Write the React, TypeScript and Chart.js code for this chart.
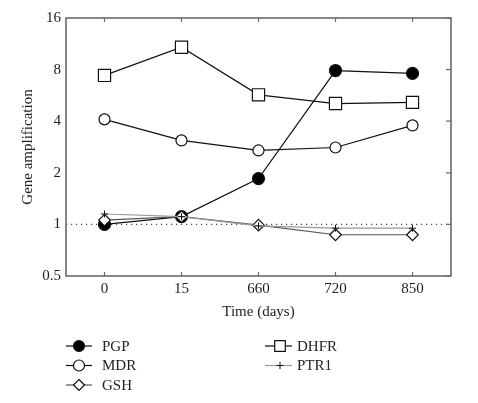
import React, { useEffect, useRef } from "react";
import { Chart, registerables } from "chart.js";

Chart.register(...registerables);

const categories = ["0", "15", "660", "720", "850"];
const yTicks = [0.5, 1, 2, 4, 8, 16];
const pgp = [1.0, 1.11, 1.85, 7.9, 7.6];
const mdr = [4.1, 3.09, 2.7, 2.81, 3.78];
const gsh = [1.06, 1.11, 0.99, 0.87, 0.87];
const dhfr = [7.4, 10.8, 5.7, 5.07, 5.15];
const ptr1 = [1.15, 1.11, 0.98, 0.95, 0.95];
const referenceLevel = 1;

const FONT = "'Liberation Serif', 'DejaVu Serif', serif";

function drawMarker(ctx: CanvasRenderingContext2D, style: string, x: number, y: number, r: number, fill: string, stroke: string, lw: number) {
  ctx.save();
  ctx.beginPath();
  ctx.lineWidth = lw;
  ctx.strokeStyle = stroke;
  ctx.fillStyle = fill;
  if (style === "circle") {
    ctx.arc(x, y, r, 0, Math.PI * 2);
    ctx.fill();
    ctx.stroke();
  } else if (style === "rect") {
    const s = Math.SQRT1_2 * r;
    ctx.rect(x - s, y - s, 2 * s, 2 * s);
    ctx.fill();
    ctx.stroke();
  } else if (style === "rectRot") {
    ctx.moveTo(x, y - r);
    ctx.lineTo(x + r, y);
    ctx.lineTo(x, y + r);
    ctx.lineTo(x - r, y);
    ctx.closePath();
    ctx.fill();
    ctx.stroke();
  } else if (style === "cross") {
    ctx.moveTo(x - r, y);
    ctx.lineTo(x + r, y);
    ctx.moveTo(x, y - r);
    ctx.lineTo(x, y + r);
    ctx.stroke();
  }
  ctx.restore();
}

const framePlugin = {
  id: "framePlugin",
  beforeDatasetsDraw(chart: any) {
    const { ctx, chartArea } = chart;
    const y = chart.scales.y.getPixelForValue(referenceLevel);
    ctx.save();
    ctx.strokeStyle = "#444";
    ctx.lineWidth = 1.2;
    ctx.setLineDash([1.2, 3.8]);
    ctx.beginPath();
    ctx.moveTo(chartArea.left, y);
    ctx.lineTo(chartArea.right, y);
    ctx.stroke();
    ctx.restore();
  },
  afterDraw(chart: any) {
    const { ctx, chartArea } = chart;
    const xs = chart.scales.x;
    const ys = chart.scales.y;
    ctx.save();
    ctx.strokeStyle = "#6a6a6a";
    ctx.lineWidth = 1.6;
    ctx.strokeRect(chartArea.left, chartArea.top, chartArea.right - chartArea.left, chartArea.bottom - chartArea.top);
    ctx.lineWidth = 1.2;
    ctx.beginPath();
    categories.forEach((_, i) => {
      const px = xs.getPixelForValue(i);
      ctx.moveTo(px, chartArea.bottom);
      ctx.lineTo(px, chartArea.bottom - 4);
      ctx.moveTo(px, chartArea.top);
      ctx.lineTo(px, chartArea.top + 4);
    });
    yTicks.forEach((v) => {
      const py = ys.getPixelForValue(v);
      ctx.moveTo(chartArea.right, py);
      ctx.lineTo(chartArea.right - 5, py);
    });
    ctx.stroke();
    ctx.restore();

    // legend
    const cols = [
      { lineStart: 66, lineEnd: 92, marker: 79, text: 102 },
      { lineStart: 265, lineEnd: 292, marker: 280, text: 297 },
    ];
    const rowsY = [346, 365.5, 385];
    const layout = [
      [0, 0],
      [0, 1],
      [0, 2],
      [1, 0],
      [1, 1],
    ];
    chart.data.datasets.forEach((ds: any, i: number) => {
      const [c, r] = layout[i];
      const col = cols[c];
      const y = rowsY[r];
      ctx.save();
      ctx.strokeStyle = ds.borderColor;
      ctx.lineWidth = 1.2;
      ctx.beginPath();
      ctx.moveTo(col.lineStart, y);
      ctx.lineTo(col.lineEnd, y);
      ctx.stroke();
      ctx.restore();
      const lr = ds.pointStyle === "rect" ? 7.5 : ds.pointStyle === "cross" ? 3.5 : 5.5;
      drawMarker(ctx, ds.pointStyle, col.marker, y, lr, ds.pointBackgroundColor, ds.pointBorderColor, ds.pointStyle === "cross" ? 1 : 1.2);
      ctx.save();
      ctx.fillStyle = "#222";
      ctx.font = `15px ${FONT}`;
      ctx.textBaseline = "middle";
      ctx.textAlign = "left";
      ctx.fillText(ds.label, col.text, y + 1);
      ctx.restore();
    });
  },
};

function makeDataset(label: string, data: number[], style: string, fill: string, line: string, radius: number, order: number) {
  return {
    label,
    data,
    pointStyle: style,
    pointRadius: radius,
    pointHoverRadius: radius,
    pointBackgroundColor: fill,
    pointBorderColor: "#111",
    pointBorderWidth: style === "cross" ? 1 : 1.2,
    borderColor: line,
    borderWidth: 1.2,
    backgroundColor: fill,
    fill: false,
    tension: 0,
    order,
  };
}

export default function App() {
  const ref = useRef<HTMLCanvasElement>(null);
  useEffect(() => {
    document.body.style.margin = "0";
    const chart = new Chart(ref.current as HTMLCanvasElement, {
      type: "line",
      data: {
        labels: categories,
        datasets: [
          makeDataset("PGP", pgp, "circle", "#000", "#111", 6, 5),
          makeDataset("MDR", mdr, "circle", "#fff", "#111", 5.5, 4),
          makeDataset("GSH", gsh, "rectRot", "#fff", "#555", 5.8, 3),
          makeDataset("DHFR", dhfr, "rect", "#fff", "#111", 8.6, 2),
          makeDataset("PTR1", ptr1, "cross", "#fff", "#999", 3.5, 1),
        ] as any,
      },
      options: {
        animation: false,
        responsive: false,
        events: [],
        layout: { padding: { left: 0, top: 18, right: 27, bottom: 82 } },
        plugins: { legend: { display: false }, tooltip: { enabled: false } },
        scales: {
          x: {
            type: "category",
            offset: true,
            grid: { display: false, drawTicks: false },
            border: { display: false },
            ticks: { color: "#222", font: { family: FONT, size: 15 }, padding: 4, maxRotation: 0 },
            title: { display: true, text: "Time (days)", color: "#222", font: { family: FONT, size: 15 }, padding: { top: 0, bottom: 0 } },
            afterFit: (s: any) => {
              s.height = 45;
            },
          },
          y: {
            type: "logarithmic",
            min: 0.5,
            max: 16,
            grid: { display: false, drawTicks: false },
            border: { display: false },
            afterBuildTicks: (s: any) => {
              s.ticks = yTicks.map((v) => ({ value: v }));
            },
            ticks: {
              color: "#222",
              font: { family: FONT, size: 15 },
              padding: 5,
              callback: (v: any) => String(v),
            },
            title: { display: true, text: "Gene amplification", color: "#222", font: { family: FONT, size: 15 }, padding: { top: 19, bottom: 0 } },
            afterFit: (s: any) => {
              s.width = 66;
            },
          },
        },
      },
      plugins: [framePlugin],
    } as any);
    return () => chart.destroy();
  }, []);
  return <canvas ref={ref} width={478} height={403} style={{ display: "block" }} />;
}
